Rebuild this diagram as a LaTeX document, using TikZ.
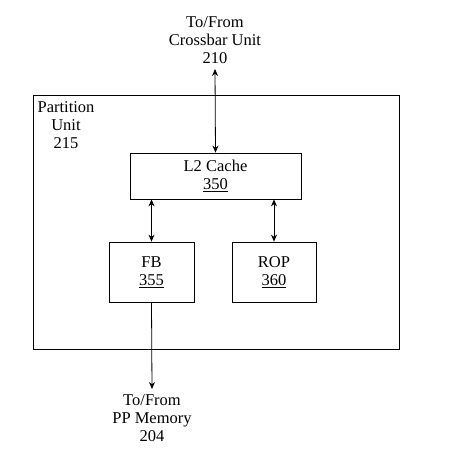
\documentclass[tikz,border=0pt]{standalone}
\usepackage{fontspec}
\setmainfont{Liberation Serif}
\usetikzlibrary{arrows.meta, positioning}

\begin{document}
\begin{tikzpicture}[x=1pt,y=-1pt,font=\fontsize{16.5}{18}\selectfont,
  unit/.style={draw,line width=0.8pt,align=center,inner sep=0pt},
  link/.style={{Stealth[length=7pt,width=6pt]}-{Stealth[length=7pt,width=6pt]},line width=0.8pt},
  down/.style={-{Stealth[length=7pt,width=6pt]},line width=0.8pt}]
  \useasboundingbox (0,0) rectangle (449,469);
  \node[unit,minimum width=366pt,minimum height=254pt] (part) at (216,222) {};
  \node[align=center,inner sep=0pt] (lbl) at (66,125) {Partition\\Unit\\215};
  \node[unit,minimum width=171pt,minimum height=46pt] (l2) at (215.5,176) {L2 Cache\\\underline{350}};
  \node[unit,minimum width=85pt,minimum height=60pt] (fb) at (151.5,272) {FB\\\underline{355}};
  \node[unit,minimum width=84pt,minimum height=60pt] (rop) at (274,272) {ROP\\\underline{360}};
  \node[align=center,inner sep=0pt] (xbar) at (215,40) {To/From\\Crossbar Unit\\210};
  \node[align=center,inner sep=0pt] (mem) at (152,418) {To/From\\PP Memory\\204};
  \coordinate (xbarend) at (215,69);
  \coordinate (memend) at (152,389);
  \draw[link] (xbarend) -- (l2.north);
  \draw[link] (l2.south -| fb.north) -- (fb.north);
  \draw[link] (l2.south -| rop.north) -- (rop.north);
  \draw[down] (fb.south) -- (memend);
\end{tikzpicture}
\end{document}
